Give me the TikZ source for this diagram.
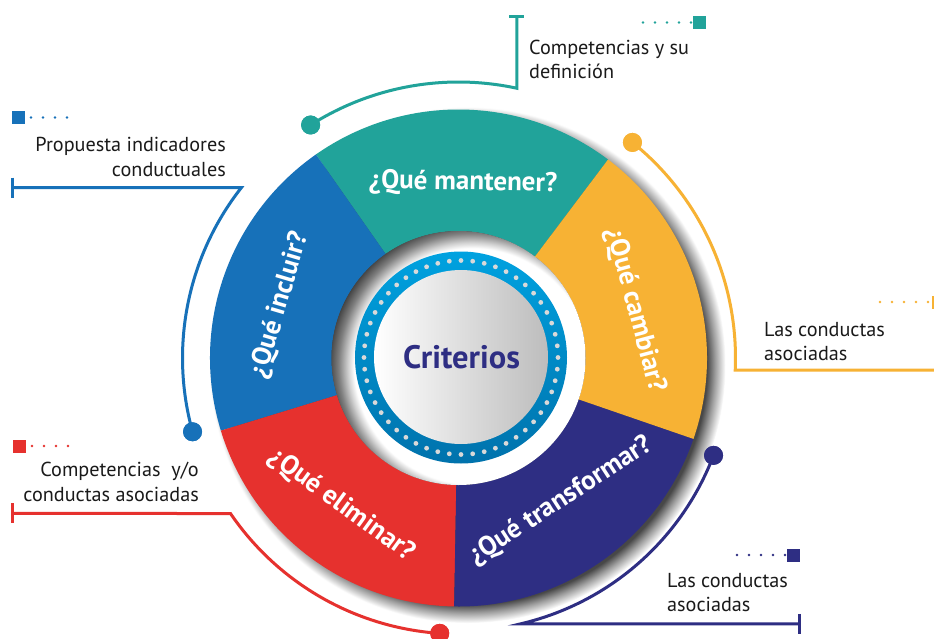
\documentclass[tikz,border=0pt]{standalone}
\usepackage{fontspec}
\setmainfont{PT Sans}
\usetikzlibrary{calc}
\definecolor{cteal}{HTML}{21A39A}
\definecolor{cblue}{HTML}{1771B9}
\definecolor{cred}{HTML}{E6312E}
\definecolor{cpurple}{HTML}{2E2E83}
\definecolor{corange}{HTML}{F7B234}
\definecolor{cring}{HTML}{00A2E0}
\definecolor{cringdark}{HTML}{0072AC}
\definecolor{ctext}{HTML}{1A1A1A}
\definecolor{cdotgray}{HTML}{D9D9D9}
\pgfdeclareradialshading{ringshadow}{\pgfpointorigin}{color(0bp)=(black!72); color(23.2bp)=(black!72); color(24bp)=(black!38); color(25bp)=(white); color(50bp)=(white)}
\pgfdeclareradialshading{holeshade}{\pgfpoint{5bp}{-3bp}}{color(0bp)=(white); color(23.2bp)=(white); color(24.3bp)=(black!18); color(26bp)=(black!50); color(28bp)=(black!78); color(50bp)=(black!78)}
\tikzset{
  conn/.style={draw=#1, line width=3pt},
  cdot/.style={circle, fill=#1, minimum size=19pt, inner sep=0pt},
  msq/.style={rectangle, fill=#1, minimum size=13pt, inner sep=0pt},
  dotrow/.style={draw=#1, line width=2.6pt, line cap=round, dash pattern=on 0pt off 12pt},
  lbl/.style={text=ctext, inner sep=0pt, font=\fontsize{20.2}{24.5}\selectfont},
  segtxt/.style={text=white, inner sep=0pt, font=\bfseries\fontsize{27}{27}\selectfont},
}
\begin{document}
\begin{tikzpicture}[x=1pt,y=1pt]
\useasboundingbox (-458.5,-280) rectangle (475.5,358);
\clip (-458.5,-280) rectangle (475.5,358);
\fill[white] (-458.5,-280) rectangle (475.5,358);

% drop shadow of the ring
\shade[shading=ringshadow] (9,-7) circle[radius=258];

% ring segments
\fill[cteal] (53:248.5) arc[start angle=53,end angle=125,radius=248.5] -- (125:127) arc[start angle=125,end angle=53,radius=127] -- cycle;
\fill[cblue] (125:248.5) arc[start angle=125,end angle=197,radius=248.5] -- (197:127) arc[start angle=197,end angle=125,radius=127] -- cycle;
\fill[cred] (197:248.5) arc[start angle=197,end angle=269,radius=248.5] -- (269:127) arc[start angle=269,end angle=197,radius=127] -- cycle;
\fill[cpurple] (269:248.5) arc[start angle=269,end angle=341,radius=248.5] -- (341:127) arc[start angle=341,end angle=269,radius=127] -- cycle;
\fill[corange] (341:248.5) arc[start angle=341,end angle=413,radius=248.5] -- (413:127) arc[start angle=413,end angle=341,radius=127] -- cycle;

% centre hole
\shade[shading=holeshade] (0,0) circle[radius=127];
\shade[top color=cring, bottom color=cringdark] (2.5,0.5) circle[radius=106];
\foreach \i in {0,...,51}
  \fill[cdotgray] ($(2.5,0.5)+(6.9231*\i:97)$) circle[radius=2.4];
\shade[left color=white, middle color=black!4, right color=black!26] (2.5,1) circle[radius=87];
\node[inner sep=0pt, text=cpurple, font=\bfseries\fontsize{32.5}{32.5}\selectfont] (crit) at (3,1) {Criterios};

% segment texts
\node[segtxt, rotate=-1] (qman) at (88.5:175) {¿Qué mantener?};
\node[segtxt, rotate=73.5] (qinc) at (163.5:186) {¿Qué incluir?};
\node[segtxt, rotate=-36] (qeli) at (231.6:188) {¿Qué eliminar?};
\node[segtxt, rotate=33] (qtra) at (305.6:176) {¿Qué transformar?};
\node[segtxt, rotate=-75] (qcam) at (15.2:183) {¿Qué cambiar?};

% --- teal connector
\node[cdot=cteal] (tdot) at (122.4:276) {};
\coordinate (tend) at (58.3,342);
\coordinate (tendl) at (50.8,342);
\coordinate (tendr) at (65.8,342);
\draw[conn=cteal] (tdot.center) arc[start angle=122.4,end angle=77.8,radius=276] -- (tend);
\draw[conn=cteal] (tendl) -- (tendr);
\node[cdot=cteal] at (tdot) {};
\node[msq=cteal] (tsq) at (240.5,335.5) {};
\coordinate (tdots) at (184.5,335.5);
\draw[dotrow=cteal] (tdots) -- (tsq.west);
\node[lbl, anchor=west, align=left] (ttxt) at (70.5,298.5) {Competencias y su\\definición};

% --- blue connector
\node[cdot=cblue] (bdot) at (195.5:276) {};
\coordinate (bend) at (-445.5,170.3);
\coordinate (bendt) at (-445.5,180.3);
\coordinate (bendb) at (-445.5,160.3);
\draw[conn=cblue] (bdot.center) arc[start angle=195.5,end angle=141.9,radius=276] -- (bend);
\draw[conn=cblue] (bendt) -- (bendb);
\node[cdot=cblue] at (bdot) {};
\node[msq=cblue] (bsq) at (-439.5,240.5) {};
\coordinate (bdots) at (-391.5,240.5);
\draw[dotrow=cblue] (bdots) -- (bsq.east);
\node[lbl, anchor=east, align=right] (btxt) at (-232.5,201) {Propuesta indicadores\\conductuales};

% --- orange connector
\node[cdot=corange] (odot) at (51.1:277) {};
\coordinate (oend) at (480,-12.1);
\draw[conn=corange] (odot.center) arc[start angle=51.1,end angle=-2.5,radius=277] -- (oend);
\node[cdot=corange] at (odot) {};
\node[msq=corange] (osq) at (479.5,56) {};
\coordinate (odots) at (421.5,56);
\draw[dotrow=corange] (odots) -- (osq.west);
\node[lbl, anchor=west, align=left] (otxt) at (305.5,16.5) {Las conductas\\asociadas};

% --- red connector
\node[cdot=cred] (rdot) at (266.1:276) {};
\coordinate (rend) at (-445.5,-155.4);
\coordinate (rendt) at (-445.5,-145.4);
\coordinate (rendb) at (-445.5,-165.4);
\draw[conn=cred] (rdot.center) arc[start angle=266.1,end angle=214.3,radius=276] -- (rend);
\draw[conn=cred] (rendt) -- (rendb);
\node[cdot=cred] at (rdot) {};
\node[msq=cred] (rsq) at (-439,-88) {};
\coordinate (rdots) at (-390.5,-88);
\draw[dotrow=cred] (rdots) -- (rsq.east);
\node[lbl, anchor=east, align=right] (rtxt) at (-259.5,-124) {Competencias~ y/o\\conductas asociadas};

% --- purple connector
\node[cdot=cpurple] (pdot) at (-20.9:273) {};
\coordinate (pend) at (340.5,-265.9);
\coordinate (pendt) at (340.5,-255.9);
\coordinate (pendb) at (340.5,-275.9);
\draw[conn=cpurple] (pdot.center) arc[start angle=-20.9,end angle=-76.9,radius=273] -- (pend);
\draw[conn=cpurple] (pendt) -- (pendb);
\node[cdot=cpurple] at (pdot) {};
\node[msq=cpurple] (psq) at (334.5,-197) {};
\coordinate (pdots) at (278.5,-197);
\draw[dotrow=cpurple] (pdots) -- (psq.west);
\node[lbl, anchor=west, align=left] (ptxt) at (208.5,-234.5) {Las conductas\\asociadas};
\end{tikzpicture}
\end{document}
